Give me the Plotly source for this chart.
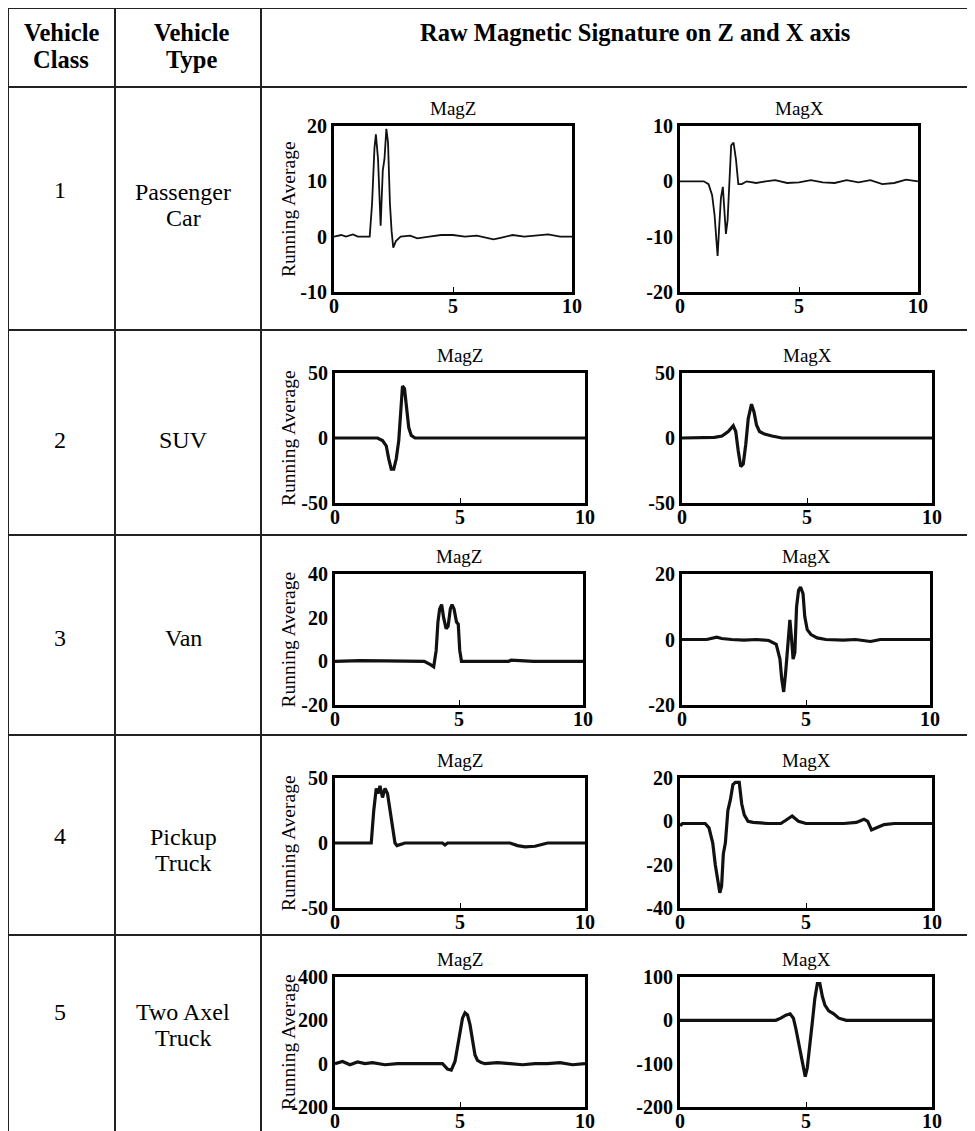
import plotly.graph_objects as go

W, H = 975, 1131

# ---------------- data ----------------
vehicle_class = ["1", "2", "3", "4", "5"]
vehicle_type = ["Passenger<br>Car", "SUV", "Van", "Pickup<br>Truck", "Two Axel<br>Truck"]
header_class = "Vehicle<br>Class"
header_type = "Vehicle<br>Type"
header_sig = "Raw Magnetic Signature on Z and X axis"
sub_titles = ["MagZ", "MagX"]
y_title = "Running Average"
x_ticks = [0, 5, 10]

# Row 1 - Passenger car
car_z_t = [0, 0.3, 0.5, 0.8, 1.0, 1.5, 1.6, 1.7, 1.76, 1.85, 1.96, 2.05, 2.12, 2.2, 2.27, 2.35, 2.42, 2.49,
           2.6, 2.8, 3.2, 3.5, 4, 4.5, 5, 5.5, 6, 6.5, 6.7, 7, 7.5, 8, 8.5, 9, 9.5, 10]
car_z_v = [0, 0.3, 0, 0.4, 0, 0, 6, 16, 18.5, 14, 2, 12, 14, 19.5, 17, 6, 1, -2,
           -0.8, 0, 0.2, -0.3, 0, 0.3, 0.3, 0, 0.2, -0.3, -0.5, -0.2, 0.3, 0, 0.2, 0.4, 0, 0]
car_x_t = [0, 0.5, 1.0, 1.2, 1.35, 1.45, 1.52, 1.58, 1.65, 1.72, 1.8, 1.86, 1.93, 2.0, 2.08, 2.15, 2.25, 2.35,
           2.45, 2.6, 2.8, 3.2, 3.6, 4, 4.5, 5, 5.5, 6, 6.5, 7, 7.5, 8, 8.5, 9, 9.5, 10]
car_x_v = [0, 0, 0, -0.5, -2.5, -6, -11, -13.5, -8, -3, -1, -5, -9.5, -7, 2, 6.5, 7, 4,
           -0.5, -0.5, 0, -0.3, 0, 0.2, -0.3, -0.2, 0.2, -0.2, -0.3, 0.2, -0.2, 0.2, -0.5, -0.3, 0.3, 0]

# Row 2 - SUV
suv_z_t = [0, 1, 1.7, 1.9, 2.05, 2.15, 2.25, 2.35, 2.45, 2.55, 2.62, 2.7, 2.78, 2.86, 2.95, 3.05, 3.2,
           4, 5, 6, 7, 8, 9, 10]
suv_z_v = [0, 0, 0, -2, -6, -16, -24, -24, -16, -2, 20, 40, 38, 22, 8, 2, 0,
           0, 0, 0, 0, 0, 0, 0]
suv_x_t = [0, 1, 1.3, 1.6, 1.85, 2.05, 2.15, 2.25, 2.35, 2.45, 2.55, 2.65, 2.78, 2.88, 2.98, 3.1, 3.3,
           3.6, 4.0, 5, 6, 7, 8, 9, 10]
suv_x_v = [0, 0, 0.5, 1.5, 5, 9.5, 5, -10, -22, -20, -5, 15, 26, 20, 10, 5, 3,
           1.5, 0, 0, 0, 0, 0, 0, 0]

# Row 3 - Van
van_z_t = [0, 1, 2, 3, 3.6, 3.85, 3.98, 4.08, 4.15, 4.22, 4.3, 4.38, 4.48, 4.56, 4.65, 4.72, 4.8, 4.9,
           4.97, 5.03, 5.1, 5.5, 6, 7, 7.1, 8, 9, 10]
van_z_v = [0, 0.3, 0.2, 0.2, 0, -1.5, -2.5, 5, 18, 24, 26, 20, 15, 16, 24, 26, 24, 18,
           17, 5, 0, 0, 0, 0, 0.5, 0, 0, 0]
van_x_t = [0, 0.5, 1.0, 1.4, 1.6, 2.0, 2.5, 3.0, 3.5, 3.8, 3.95, 4.02, 4.1, 4.18, 4.27, 4.35, 4.42, 4.48,
           4.55, 4.62, 4.7, 4.78, 4.88, 4.95, 5.05, 5.2, 5.45, 5.8, 6.5, 7, 7.6, 8, 9, 10]
van_x_v = [0, 0, 0, 0.7, 0.3, 0, -0.2, 0, -0.3, -1.5, -6, -12, -16, -10, -2, 6, 0, -6,
           -4, 10, 15, 16, 14, 7, 3, 1.5, 0.5, 0, -0.2, 0, -0.6, 0, 0, 0]

# Row 4 - Pickup truck
pick_z_t = [0, 1, 1.45, 1.55, 1.65, 1.72, 1.8, 1.9, 2.0, 2.1, 2.2, 2.3, 2.4, 2.48, 2.6, 2.8, 3.5,
            4.3, 4.4, 4.5, 5, 6, 7, 7.3, 7.6, 8.0, 8.3, 8.5, 9, 10]
pick_z_v = [0, 0, 0, 25, 42, 38, 44, 35, 42, 38, 25, 10, 0, -2, -1, 0, 0,
            0, -1.5, 0, 0, 0, 0, -2, -3, -2.5, -1, 0, 0, 0]
pick_x_t = [0, 0.1, 0.5, 1.0, 1.15, 1.3, 1.4, 1.5, 1.58, 1.65, 1.72, 1.8, 1.9, 2.0, 2.1, 2.2, 2.35, 2.45,
            2.55, 2.7, 2.9, 3.5, 4.0, 4.2, 4.45, 4.7, 5, 6, 6.5, 7.0, 7.3, 7.45, 7.6, 7.8, 8.1, 8.5, 9, 10]
pick_x_v = [-2, -1, -1, -1, -3, -10, -20, -28, -33, -30, -15, -10, 5, 10, 17, 18, 18, 8,
            3, 0, -0.5, -1, -1, 0.5, 2.5, 0, -1, -1, -1, -0.5, 1, 0, -4, -3, -1.5, -1, -1, -1]

# Row 5 - Two axel truck
truck_z_t = [0, 0.3, 0.6, 0.9, 1.2, 1.5, 2, 2.5, 3, 3.5, 4, 4.3, 4.5, 4.65, 4.8, 4.95, 5.1, 5.2, 5.3,
             5.4, 5.5, 5.6, 5.7, 5.85, 6.0, 6.5, 7, 7.5, 8, 8.5, 9, 9.5, 10]
truck_z_v = [0, 10, -5, 8, 0, 5, -5, 0, 0, 0, 0, 0, -25, -30, 10, 120, 210, 235, 225,
             180, 100, 40, 15, 5, 0, 5, 0, -5, 0, 0, 5, -5, 0]
truck_x_t = [0, 1, 2, 3, 3.8, 4.0, 4.2, 4.37, 4.5, 4.6, 4.7, 4.8, 4.9, 4.97, 5.05, 5.15, 5.25, 5.35,
             5.45, 5.55, 5.65, 5.75, 5.9, 6.1, 6.3, 6.6, 7, 8, 9, 10]
truck_x_v = [0, 0, 0, 0, 0, 5, 12, 15, 5, -20, -50, -75, -110, -130, -110, -50, -5, 50,
             85, 85, 55, 35, 22, 15, 5, 0, 0, 0, 0, 0]

# y tick values per panel (Z, X)
car_z_ticks, car_x_ticks = [-10, 0, 10, 20], [-20, -10, 0, 10]
suv_z_ticks, suv_x_ticks = [-50, 0, 50], [-50, 0, 50]
van_z_ticks, van_x_ticks = [-20, 0, 20, 40], [-20, 0, 20]
pick_z_ticks, pick_x_ticks = [-50, 0, 50], [-40, -20, 0, 20]
truck_z_ticks, truck_x_ticks = [-200, 0, 200, 400], [-200, -100, 0, 100]

rows = [
    ((car_z_t, car_z_v, car_z_ticks), (car_x_t, car_x_v, car_x_ticks)),
    ((suv_z_t, suv_z_v, suv_z_ticks), (suv_x_t, suv_x_v, suv_x_ticks)),
    ((van_z_t, van_z_v, van_z_ticks), (van_x_t, van_x_v, van_x_ticks)),
    ((pick_z_t, pick_z_v, pick_z_ticks), (pick_x_t, pick_x_v, pick_x_ticks)),
    ((truck_z_t, truck_z_v, truck_z_ticks), (truck_x_t, truck_x_v, truck_x_ticks)),
]

# ---------------- layout geometry (window pixels) ----------------
PAGE_OFF = 8          # the page places the figure 8 px in from the top-left corner
col_lines = [8, 115, 261, 974]
row_lines = [8, 87, 330, 535, 735, 935]
table_bottom = 1140
panel_y = [(126, 292), (373, 503), (574, 705), (778, 908), (977, 1107)]
panel_zx = [(334, 572), (335, 585), (335, 583), (335, 585), (335, 585)]
panel_xx = [(680, 918), (682, 932), (682, 930), (680, 932), (680, 932)]
line_w = [1.8, 3.2, 3.2, 3.2, 3.2]
label_y = [(190, 205), (440, 440), (638, 638), (836, 850), (1012, 1025)]
LINE_GAP = 26


def px(x):
    return (x - PAGE_OFF) / W


def py(y):
    return 1 - (y - PAGE_OFF) / H


FONT = "Liberation Serif"
fig = go.Figure()
layout = dict(
    width=W, height=H, margin=dict(l=0, r=0, t=0, b=0, autoexpand=False),
    paper_bgcolor="white", plot_bgcolor="white", showlegend=False,
    font=dict(family=FONT, color="black"),
)
annotations = []
shapes = []


def add_text(x, yc, text, size, bold=False):
    parts = text.split("<br>")
    n = len(parts)
    for i, p in enumerate(parts):
        yy = yc + (i - (n - 1) / 2) * LINE_GAP
        annotations.append(dict(x=px(x), y=py(yy), xref="paper", yref="paper",
                                text=("<b>%s</b>" % p) if bold else p, showarrow=False,
                                xanchor="center", yanchor="middle",
                                font=dict(family=FONT, size=size, color="black")))


k = 0
for r, (zdat, xdat) in enumerate(rows):
    for c, (tt, vv, yt) in enumerate((zdat, xdat)):
        k += 1
        xa = "xaxis" if k == 1 else f"xaxis{k}"
        ya = "yaxis" if k == 1 else f"yaxis{k}"
        xref = "x" if k == 1 else f"x{k}"
        yref = "y" if k == 1 else f"y{k}"
        lx, rx = panel_zx[r] if c == 0 else panel_xx[r]
        ty, by = panel_y[r]
        fig.add_trace(go.Scatter(x=tt, y=vv, mode="lines", xaxis=xref, yaxis=yref,
                                 line=dict(color="#111111", width=line_w[r]),
                                 hoverinfo="skip"))
        layout[xa] = dict(domain=[px(lx), px(rx)], anchor=yref, range=[0, 10],
                          tickvals=x_ticks, ticktext=[str(v) for v in x_ticks],
                          showgrid=False, zeroline=False, showline=True, mirror=True,
                          linecolor="black", linewidth=3, ticks="inside", ticklen=5,
                          tickwidth=1, tickcolor="black", automargin=False,
                          tickfont=dict(family=FONT, size=20, color="black", weight="bold"))
        layout[ya] = dict(domain=[py(by), py(ty)], anchor=xref, range=[yt[0], yt[-1]],
                          tickvals=yt, ticktext=[str(v) for v in yt],
                          showgrid=False, zeroline=False, showline=True, mirror=True,
                          linecolor="black", linewidth=3, ticks="", automargin=False,
                          tickfont=dict(family=FONT, size=20, color="black", weight="bold"))
        annotations.append(dict(x=px((lx + rx) / 2), y=py(ty - 18), xref="paper", yref="paper",
                                text=sub_titles[c], showarrow=False, xanchor="center",
                                yanchor="middle", font=dict(family=FONT, size=19, color="black")))
        if c == 0:
            annotations.append(dict(x=px(288), y=py((ty + by) / 2), xref="paper", yref="paper",
                                    text=y_title, textangle=-90, showarrow=False,
                                    xanchor="center", yanchor="middle",
                                    font=dict(family=FONT, size=19.5, color="black")))
    add_text(60, label_y[r][0], vehicle_class[r], 24)
    add_text(183, label_y[r][1], vehicle_type[r], 24)

# header texts
add_text(61, 46, header_class, 24.5, bold=True)
add_text(191, 46, header_type, 24.5, bold=True)
add_text(635, 32, header_sig, 24.5, bold=True)

# table lines
for xl in col_lines:
    shapes.append(dict(type="line", xref="paper", yref="paper", x0=px(xl), x1=px(xl),
                       y0=py(row_lines[0]), y1=py(table_bottom),
                       line=dict(color="#222222", width=2)))
for yl in row_lines:
    shapes.append(dict(type="line", xref="paper", yref="paper", x0=px(col_lines[0]), x1=px(col_lines[-1]),
                       y0=py(yl), y1=py(yl), line=dict(color="#222222", width=2)))

layout["annotations"] = annotations
layout["shapes"] = shapes
fig.update_layout(**layout)

# pull x tick labels closer to the frame, as in the reference
try:
    fig.update_xaxes(ticklabelstandoff=-6)
except Exception:
    pass

fig.write_html("out.html")
